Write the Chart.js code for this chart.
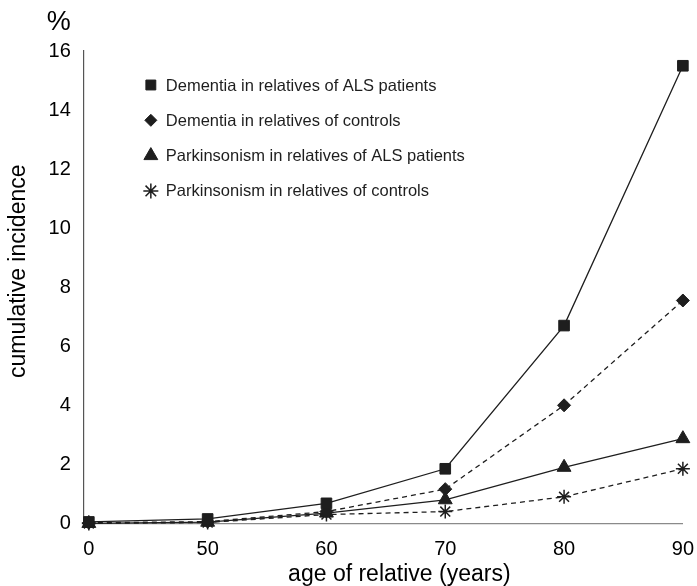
<!DOCTYPE html>
<html>
<head>
<meta charset="utf-8">
<script src="https://cdn.jsdelivr.net/npm/chart.js@4/dist/chart.umd.min.js"></script>
<style>
  html, body { margin: 0; padding: 0; background: #fff; }
  #wrap { width: 697px; height: 586px; }
</style>
</head>
<body>
<div id="wrap"><canvas id="chart" width="697" height="586"></canvas></div>
<script>
const ageLabels = ["0", "50", "60", "70", "80", "90"];
const yTicks = [0, 2, 4, 6, 8, 10, 12, 14, 16];

const dementiaALS = [0.05, 0.15, 0.68, 1.85, 6.7, 15.5];
const dementiaControls = [0.02, 0.06, 0.4, 1.16, 4.0, 7.55];
const parkinsonALS = [0.0, 0.04, 0.35, 0.8, 1.9, 2.87];
const parkinsonControls = [0.0, 0.03, 0.3, 0.4, 0.9, 1.85];

const seriesNames = [
  "Dementia in relatives of ALS patients",
  "Dementia in relatives of controls",
  "Parkinsonism in relatives of ALS patients",
  "Parkinsonism in relatives of controls"
];

const ink = "#1e1e1e";
const fontFam = "'Liberation Sans', Arial, sans-serif";

function toPoints(arr) {
  return arr.map((v, i) => ({ x: i, y: v }));
}

function makeSet(label, values, style, radius, dashed) {
  return {
    label: label,
    data: toPoints(values),
    borderColor: ink,
    backgroundColor: ink,
    borderWidth: 1.3,
    borderDash: dashed ? [5, 4] : [],
    pointStyle: style,
    pointRadius: radius,
    pointBorderWidth: style === "star" ? 1.5 : 1,
    pointBorderColor: ink,
    pointBackgroundColor: ink,
    tension: 0,
    fill: false,
    clip: false
  };
}

// legend drawn inside the plot area, top left
const insideLegend = {
  id: "insideLegend",
  afterDraw(chart) {
    const ctx = chart.ctx;
    const area = chart.chartArea;
    const x0 = area.left + 67;
    const y0 = area.top + 34;
    const gap = 35.3;
    const sizes = { rect: 7, rectRot: 6, triangle: 8, star: 7.5 };
    ctx.save();
    chart.data.datasets.forEach((ds, i) => {
      const y = y0 + i * gap;
      ctx.fillStyle = ink;
      ctx.strokeStyle = ink;
      ctx.lineWidth = ds.pointStyle === "star" ? 1.5 : 1;
      ctx.setLineDash([]);
      Chart.helpers.drawPoint(ctx, {
        pointStyle: ds.pointStyle,
        radius: sizes[ds.pointStyle],
        rotation: 0,
        borderWidth: ctx.lineWidth
      }, x0, y);
      ctx.font = "16.5px " + fontFam;
      ctx.textBaseline = "middle";
      ctx.textAlign = "left";
      ctx.fillText(seriesNames[i], x0 + 15, y + 1);
    });
    // "%" unit label above the y axis tick labels
    ctx.font = "27px " + fontFam;
    ctx.textAlign = "right";
    ctx.textBaseline = "middle";
    ctx.fillStyle = "#000";
    ctx.fillText("%", area.left - 13, area.top - 28);
    ctx.restore();
  }
};

new Chart(document.getElementById("chart"), {
  type: "line",
  data: {
    datasets: [
      makeSet(seriesNames[0], dementiaALS, "rect", 7.5, false),
      makeSet(seriesNames[1], dementiaControls, "rectRot", 6.5, true),
      makeSet(seriesNames[2], parkinsonALS, "triangle", 8, false),
      makeSet(seriesNames[3], parkinsonControls, "star", 7, true)
    ]
  },
  options: {
    responsive: false,
    animation: false,
    layout: { padding: { top: 51, right: 0, left: 2, bottom: -2 } },
    plugins: {
      legend: { display: false },
      tooltip: { enabled: false }
    },
    scales: {
      x: {
        type: "linear",
        min: -0.042,
        max: 5,
        afterBuildTicks(axis) {
          axis.ticks = ageLabels.map((_, i) => ({ value: i }));
        },
        grid: { display: false, drawTicks: false },
        border: { display: true, color: "#8a8a8a", width: 1.3 },
        ticks: {
          color: "#000",
          padding: 3,
          maxRotation: 0,
          font: { size: 20, family: fontFam, lineHeight: 2.3 },
          callback: (v) => ageLabels[v]
        },
        title: {
          display: true,
          text: "     age of relative (years)",
          color: "#000",
          padding: { top: -15, bottom: 0 },
          font: { size: 23, family: fontFam }
        }
      },
      y: {
        min: 0,
        max: 16,
        afterBuildTicks(axis) {
          axis.ticks = yTicks.map(v => ({ value: v }));
        },
        grid: { display: false, drawTicks: false },
        border: { display: true, color: "#555", width: 1.2 },
        ticks: {
          color: "#000",
          padding: 13,
          font: { size: 20, family: fontFam }
        },
        title: {
          display: true,
          text: "     cumulative incidence",
          color: "#000",
          padding: { top: 3, bottom: 3 },
          font: { size: 23, family: fontFam }
        }
      }
    }
  },
  plugins: [insideLegend]
});
</script>
</body>
</html>
